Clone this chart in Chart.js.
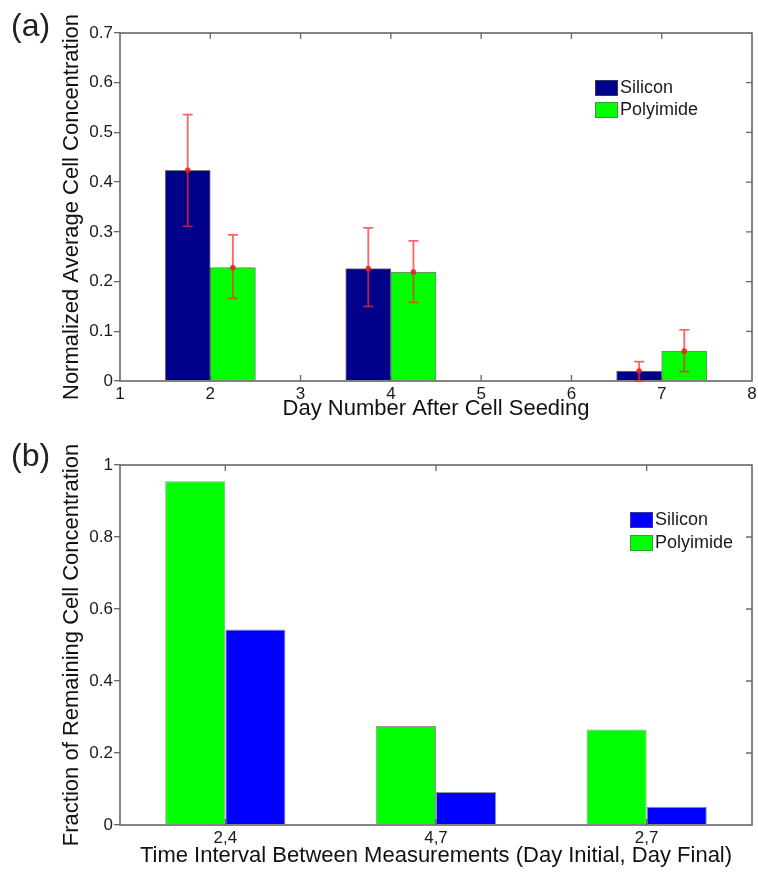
<!DOCTYPE html>
<html>
<head>
<meta charset="utf-8">
<title>Cell concentration on silicon and polyimide</title>
<script src="https://cdn.jsdelivr.net/npm/chart.js@4/dist/chart.umd.min.js"></script>
<style>
  html, body { margin: 0; padding: 0; background: #fff; }
  #page { position: relative; width: 758px; height: 873px; overflow: hidden;
          font-family: "Liberation Sans", Arial, sans-serif; }
  .panel { position: absolute; left: 0; }
  .tag { position: absolute; left: 11px; font-size: 32px; line-height: 1; color: #222; }
</style>
</head>
<body>
<div id="page">
  <canvas id="chartA" class="panel" style="top:0; width:758px; height:430px" width="758" height="430"></canvas>
  <canvas id="chartB" class="panel" style="top:430px; width:758px; height:443px" width="758" height="443"></canvas>
  <div class="tag" style="top:9px">(a)</div>
  <div class="tag" style="top:439px">(b)</div>
</div>
<script>
// ---- Panel (a): normalized average cell concentration per day ----
const dayNumbers = [2, 4, 7];
const siliconMean = [0.424, 0.226, 0.020];
const siliconLow = [0.311, 0.150, 0.000];
const siliconHigh = [0.536, 0.308, 0.039];
const polyimideMean = [0.228, 0.219, 0.060];
const polyimideLow = [0.166, 0.158, 0.019];
const polyimideHigh = [0.294, 0.282, 0.103];
const dayTicks = [1, 2, 3, 4, 5, 6, 7, 8];
const concentrationTicks = [0, 0.1, 0.2, 0.3, 0.4, 0.5, 0.6, 0.7];

// ---- Panel (b): fraction of cells remaining over each interval ----
const intervalLabels = ['2,4', '4,7', '2,7'];
const polyimideFraction = [0.955, 0.275, 0.265];
const siliconFraction = [0.543, 0.092, 0.051];
const fractionTicks = [0, 0.2, 0.4, 0.6, 0.8, 1];

const FONT = '"Liberation Sans", Arial, sans-serif';
const AXIS_GRAY = '#676767';
Chart.defaults.font.family = FONT;
Chart.defaults.color = '#1a1a1a';

// Box around the plot with MATLAB-style inward ticks on top, right and bottom
const axesBox = {
  id: 'axesBox',
  beforeDatasetsDraw(chart) {
    const { ctx, chartArea: a, scales: { x, y } } = chart;
    const len = 6;
    ctx.save();
    ctx.strokeStyle = AXIS_GRAY;
    ctx.lineWidth = 1.3;
    ctx.beginPath();
    x.ticks.forEach((t, i) => {
      const px = x.getPixelForTick(i);
      if (px <= a.left + 1 || px >= a.right - 1) return;
      ctx.moveTo(px, a.top); ctx.lineTo(px, a.top + len);
      ctx.moveTo(px, a.bottom); ctx.lineTo(px, a.bottom - len);
    });
    y.ticks.forEach((t, i) => {
      const py = y.getPixelForTick(i);
      if (py <= a.top + 1 || py >= a.bottom - 1) return;
      ctx.moveTo(a.right, py); ctx.lineTo(a.right - len, py);
    });
    ctx.stroke();
    ctx.restore();
  },
  afterDatasetsDraw(chart) {
    const { ctx, chartArea: a } = chart;
    ctx.save();
    ctx.strokeStyle = AXIS_GRAY;
    ctx.lineWidth = 1.6;
    ctx.strokeRect(a.left, a.top, a.right - a.left, a.bottom - a.top);
    ctx.restore();
  }
};

// Red error bars with a dot at the mean, read from errLow / errHigh of each dataset
const errorBars = {
  id: 'errorBars',
  afterDatasetsDraw(chart) {
    const { ctx, scales: { y } } = chart;
    chart.data.datasets.forEach((ds, di) => {
      if (!ds.errLow) return;
      const meta = chart.getDatasetMeta(di);
      meta.data.forEach((bar, i) => {
        const yl = y.getPixelForValue(ds.errLow[i]);
        const yh = y.getPixelForValue(ds.errHigh[i]);
        const cap = 5;
        ctx.save();
        ctx.strokeStyle = 'rgba(255, 40, 40, 0.72)';
        ctx.fillStyle = 'rgba(235, 30, 30, 0.85)';
        ctx.lineWidth = 1.8;
        ctx.beginPath();
        ctx.moveTo(bar.x, yl); ctx.lineTo(bar.x, yh);
        ctx.moveTo(bar.x - cap, yh); ctx.lineTo(bar.x + cap, yh);
        ctx.moveTo(bar.x - cap, yl); ctx.lineTo(bar.x + cap, yl);
        ctx.stroke();
        ctx.beginPath();
        ctx.arc(bar.x, bar.y, 2.8, 0, Math.PI * 2);
        ctx.fill();
        ctx.restore();
      });
    });
  }
};

// Legend drawn inside the plot, near the upper right corner
const boxLegend = {
  id: 'boxLegend',
  afterDraw(chart, args, opts) {
    const { ctx, chartArea: a } = chart;
    const items = chart.data.datasets
      .map((ds, i) => ({ ds, i }))
      .sort((p, q) => p.ds.legendRank - q.ds.legendRank);
    const left = a.right - opts.fromRight;
    const top = a.top + 47;
    ctx.save();
    ctx.font = '18px ' + FONT;
    ctx.textBaseline = 'middle';
    ctx.textAlign = 'left';
    items.forEach((it, k) => {
      const by = top + k * opts.rowGap;
      ctx.fillStyle = it.ds.backgroundColor;
      ctx.fillRect(left, by, 23, 16);
      ctx.strokeStyle = 'rgba(90,90,90,0.6)';
      ctx.lineWidth = 1;
      ctx.strokeRect(left + 0.5, by + 0.5, 22, 15);
      ctx.fillStyle = '#1a1a1a';
      ctx.fillText(it.ds.label, left + 25, by + 8.5);
    });
    ctx.restore();
  }
};

function yAxis(max, ticks, title) {
  return {
    min: 0, max: max,
    afterBuildTicks: s => { s.ticks = ticks.map(v => ({ value: v })); },
    afterFit: s => { s.width = 120; },
    ticks: { font: { size: 17 }, color: '#1a1a1a', padding: 1, callback: v => String(v) },
    grid: { drawOnChartArea: false, drawTicks: true, tickLength: 6, color: AXIS_GRAY, lineWidth: 1.3 },
    border: { display: false },
    title: { display: true, text: title, font: { size: 22 }, color: '#111', padding: { top: 59, bottom: 0 } }
  };
}

new Chart(document.getElementById('chartA'), {
  type: 'bar',
  data: {
    datasets: [
      { label: 'Silicon', legendRank: 0,
        data: dayNumbers.map((d, i) => ({ x: d, y: siliconMean[i] })),
        errLow: siliconLow, errHigh: siliconHigh,
        backgroundColor: '#00008a', borderColor: 'rgba(80,80,80,0.75)', borderWidth: 1 },
      { label: 'Polyimide', legendRank: 1,
        data: dayNumbers.map((d, i) => ({ x: d, y: polyimideMean[i] })),
        errLow: polyimideLow, errHigh: polyimideHigh,
        backgroundColor: '#00ff00', borderColor: 'rgba(80,80,80,0.75)', borderWidth: 1 }
    ]
  },
  options: {
    responsive: false, animation: false,
    categoryPercentage: 1, barPercentage: 1,
    layout: { padding: { left: 0, top: 33, right: 6, bottom: 0 } },
    plugins: { legend: { display: false }, tooltip: { enabled: false },
               boxLegend: { fromRight: 157, rowGap: 22 } },
    scales: {
      x: {
        type: 'linear', min: 1, max: 8, offset: false,
        afterBuildTicks: s => { s.ticks = dayTicks.map(v => ({ value: v })); },
        afterFit: s => { s.height = 49; s.paddingLeft = 0; s.paddingRight = 0; },
        ticks: { font: { size: 17 }, color: '#1a1a1a', padding: 3, maxRotation: 0 },
        grid: { display: true, drawOnChartArea: false, drawTicks: false },
        border: { display: false },
        title: { display: true, text: 'Day Number After Cell Seeding', font: { size: 22 }, color: '#111',
                 padding: { top: 0, bottom: 8 } }
      },
      y: yAxis(0.7, concentrationTicks, 'Normalized Average Cell Concentration')
    }
  },
  plugins: [axesBox, errorBars, boxLegend]
});

new Chart(document.getElementById('chartB'), {
  type: 'bar',
  data: {
    labels: intervalLabels,
    datasets: [
      { label: 'Polyimide', legendRank: 1, data: polyimideFraction,
        backgroundColor: '#00ff00', borderColor: 'rgba(80,80,80,0.6)', borderWidth: 1 },
      { label: 'Silicon', legendRank: 0, data: siliconFraction,
        backgroundColor: '#0000ff', borderColor: 'rgba(80,80,80,0.6)', borderWidth: 1 }
    ]
  },
  options: {
    responsive: false, animation: false,
    categoryPercentage: 0.571, barPercentage: 1,
    layout: { padding: { left: 0, top: 35, right: 6, bottom: 0 } },
    plugins: { legend: { display: false }, tooltip: { enabled: false },
               boxLegend: { fromRight: 122, rowGap: 23 } },
    scales: {
      x: {
        type: 'category',
        afterFit: s => { s.height = 48; s.paddingLeft = 0; s.paddingRight = 0; },
        ticks: { font: { size: 17 }, color: '#1a1a1a', padding: 3, maxRotation: 0 },
        grid: { display: true, drawOnChartArea: false, drawTicks: false },
        border: { display: false },
        title: { display: true, text: 'Time Interval Between Measurements (Day Initial, Day Final)',
                 font: { size: 22 }, color: '#111', padding: { top: 0, bottom: 4 } }
      },
      y: yAxis(1, fractionTicks, 'Fraction of Remaining Cell Concentration')
    }
  },
  plugins: [axesBox, boxLegend]
});
</script>
</body>
</html>
